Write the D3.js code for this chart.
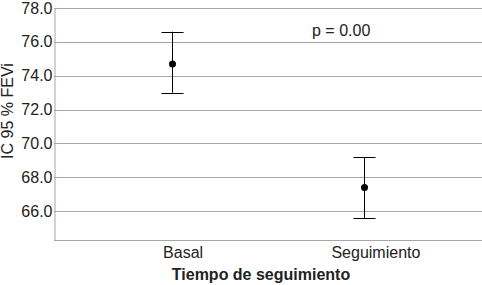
<!DOCTYPE html>
<html><head><meta charset="utf-8">
<script src="https://cdn.jsdelivr.net/npm/d3@7"></script>
<style>body{margin:0;background:#fff}svg{display:block}text{font-family:"Liberation Sans",Arial,sans-serif;fill:#222}</style>
</head><body><svg id="c" width="482" height="285"></svg>
<script>
const categories = ["Basal", "Seguimiento"];
const means = [74.7, 67.4];
const lower = [73.0, 65.6];
const upper = [76.6, 69.2];
const yTicks = [66, 68, 70, 72, 74, 76, 78];
const yDomain = [64.3, 78];
const pText = "p = 0.00";

const svg = d3.select("#c");
const m = {l: 54, t: 8, r: 482, b: 240};
const x = d3.scalePoint().domain(categories).range([m.l, m.r]).padding(0.61);
const y = d3.scaleLinear().domain(yDomain).range([m.b, m.t]);

// gridlines
svg.append("g").selectAll("line").data(yTicks).join("line")
  .attr("x1", m.l).attr("x2", m.r)
  .attr("y1", d => Math.round(y(d)) + 0.5).attr("y2", d => Math.round(y(d)) + 0.5)
  .attr("stroke", "#a6a6a6").attr("stroke-width", 1);

// axes
const yAxis = svg.append("g").attr("transform", `translate(${m.l + 0.5},0)`)
  .call(d3.axisLeft(y).tickValues(yTicks).tickFormat(d3.format(".1f")).tickSize(0).tickPadding(2));
yAxis.select(".domain").attr("stroke", "#a6a6a6");
yAxis.selectAll("text").attr("font-size", 16).attr("fill", "#222").attr("font-family", "Liberation Sans, Arial, sans-serif");

const xAxis = svg.append("g").attr("transform", `translate(0,${m.b + 0.5})`)
  .call(d3.axisBottom(x).tickSize(0).tickPadding(6));
xAxis.select(".domain").attr("stroke", "#a6a6a6").attr("d", `M${m.l},0H${m.r}`);
xAxis.selectAll("text").attr("font-size", 16).attr("fill", "#222").attr("dx", 11).attr("font-family", "Liberation Sans, Arial, sans-serif");

// error bars
const g = svg.append("g");
categories.forEach((c, i) => {
  const cx = Math.round(x(c)) + 0.5;
  g.append("line").attr("x1", cx).attr("x2", cx).attr("y1", y(upper[i])).attr("y2", y(lower[i])).attr("stroke", "#000");
  [upper[i], lower[i]].forEach(v => {
    g.append("line").attr("x1", cx - 11).attr("x2", cx + 11).attr("y1", Math.round(y(v)) + 0.5).attr("y2", Math.round(y(v)) + 0.5).attr("stroke", "#000");
  });
  g.append("circle").attr("cx", cx).attr("cy", y(means[i])).attr("r", 3.5).attr("fill", "#000");
});

// annotation
svg.append("text").attr("x", 312).attr("y", 36).attr("font-size", 16).text(pText);

// axis titles
svg.append("text").attr("x", 261).attr("y", 280).attr("text-anchor", "middle")
  .attr("font-size", 16).attr("font-weight", "bold").text("Tiempo de seguimiento");
svg.append("text").attr("transform", "translate(13,111) rotate(-90)").attr("text-anchor", "middle")
  .attr("font-size", 16).text("IC 95 % FEVi");
</script></body></html>
